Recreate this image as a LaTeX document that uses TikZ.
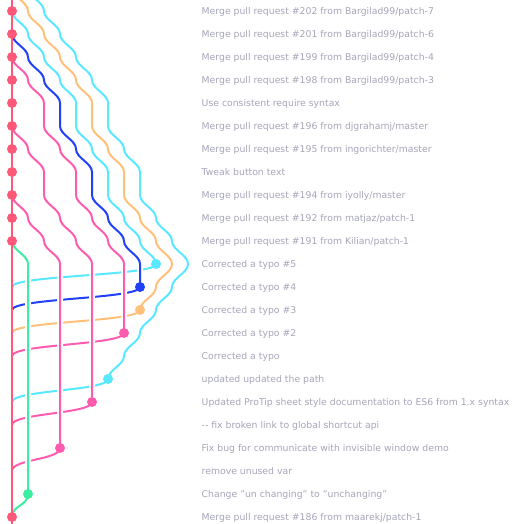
\documentclass[tikz,border=0pt]{standalone}
\usepackage{fontspec}
\setmainfont{DejaVu Sans}
\usetikzlibrary{backgrounds}
\definecolor{maincol}{RGB}{255,88,120}
\definecolor{pinkcol}{RGB}{255,92,175}
\definecolor{bluecol}{RGB}{32,64,250}
\definecolor{cyancol}{RGB}{88,232,255}
\definecolor{orangecol}{RGB}{255,192,122}
\definecolor{greencol}{RGB}{60,238,160}
\definecolor{msgcol}{RGB}{165,165,185}

\begin{document}
\begin{tikzpicture}[
  x=1pt, y=-1pt,
  commit/.style={circle, fill=#1, inner sep=0pt, minimum size=10pt},
  lane/.style={draw=#1, line width=2pt,
               preaction={draw=white, line width=6pt}},
  joinline/.style={draw=#1, line width=2pt},
  msg/.style={anchor=base west, inner sep=0pt, text=msgcol,
              font=\fontsize{9.3}{11}\selectfont}
]
  \useasboundingbox (0,0) rectangle (518,524);
  \clip (0,0) rectangle (518,524);

  % Rows of the main lane
  \foreach \r in {-1,...,23}
    \coordinate (m\r) at (12,{11+23*\r});

  % Lane columns per row: name/first row/columns
  \foreach \lname/\first/\cols in {
      typo5/0/{0,1,2,3,4,4,5,6,6,7,8,9},
      typo4/1/{0,1,2,3,3,4,5,5,6,7,8,8},
      typo3/-1/{0,1,2,3,4,5,5,6,7,7,8,9,10,9,8},
      typo2/2/{0,1,2,2,3,4,4,5,6,7,7,7,7},
      path/-1/{1,2,3,4,5,6,6,7,8,8,9,10,11,10,9,8,7,6},
      protip/5/{0,1,2,2,3,4,5,5,5,5,5,5,5},
      bugfix/8/{0,1,2,3,3,3,3,3,3,3,3,3},
      rename/10/{0,1,1,1,1,1,1,1,1,1,1,1}}
    \foreach \c [count=\i] in \cols {
      \pgfmathtruncatemacro\r{\i+\first-1}
      \coordinate (\lname-\r) at ({12+16*\c},{11+23*\r});
    }

  % Tip commits back into the main lane
  \foreach \lname/\last/\col in {typo5/11/cyancol, typo4/12/bluecol,
      typo3/13/orangecol, typo2/14/pinkcol, path/16/cyancol,
      protip/17/pinkcol, bugfix/19/pinkcol, rename/21/greencol} {
    \pgfmathtruncatemacro\nxt{\last+1}
    \draw[joinline=\col] (\lname-\last)
      .. controls +(0,12) and +(0,-12) .. (m\nxt);
  }

  % Branch lanes, drawn over the joins
  \foreach \lname/\first/\last/\col in {typo5/0/11/cyancol,
      typo4/1/12/bluecol, typo3/-1/13/orangecol, typo2/2/14/pinkcol,
      path/-1/16/cyancol, protip/5/17/pinkcol, bugfix/8/19/pinkcol,
      rename/10/21/greencol} {
    \pgfmathtruncatemacro\nxt{\first+1}
    \draw[lane=\col] (\lname-\first)
      foreach \r in {\nxt,...,\last} {
        .. controls +(0,9) and +(0,-9) .. (\lname-\r) };
  }

  % Main lane
  \draw[joinline=maincol] (m-1) -- (m23);

  % Commit dots
  \foreach \r in {0,...,10,22}
    \node[commit=maincol] (c\r) at (m\r) {};
  \foreach \lname/\last/\col in {typo5/11/cyancol, typo4/12/bluecol,
      typo3/13/orangecol, typo2/14/pinkcol, path/16/cyancol,
      protip/17/pinkcol, bugfix/19/pinkcol, rename/21/greencol}
    \node[commit=\col] (tip-\lname) at (\lname-\last) {};

  % Commit messages
  \foreach \txt [count=\i from 0] in {
      Merge pull request \#202 from Bargilad99/patch-7,
      Merge pull request \#201 from Bargilad99/patch-6,
      Merge pull request \#199 from Bargilad99/patch-4,
      Merge pull request \#198 from Bargilad99/patch-3,
      Use consistent require syntax,
      Merge pull request \#196 from djgrahamj/master,
      Merge pull request \#195 from ingorichter/master,
      Tweak button text,
      Merge pull request \#194 from iyolly/master,
      Merge pull request \#192 from matjaz/patch-1,
      Merge pull request \#191 from Kilian/patch-1,
      Corrected a typo \#5,
      Corrected a typo \#4,
      Corrected a typo \#3,
      Corrected a typo \#2,
      Corrected a typo,
      updated updated the path,
      Updated ProTip sheet style documentation to ES6 from 1.x syntax,
      {-}{-} fix broken link to global shortcut api,
      Fix bug for communicate with invisible window demo,
      remove unused var,
      Change "un changing" to "unchanging",
      Merge pull request \#186 from maarekj/patch-1}
    \node[msg] (msg\i) at (201.5,{14.5+23*\i}) {\txt};
\end{tikzpicture}
\end{document}
